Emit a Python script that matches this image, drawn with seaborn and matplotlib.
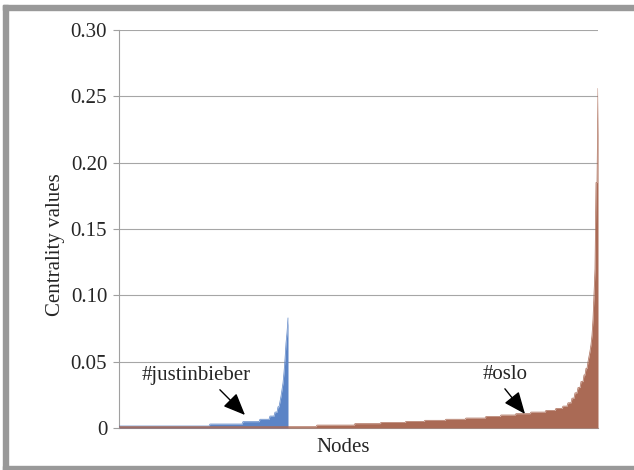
import numpy as np
import pandas as pd
import matplotlib
matplotlib.use("Agg")
import matplotlib.pyplot as plt
import seaborn as sns
from matplotlib.patches import Rectangle

# Sorted node centrality values per hashtag graph, stored as runs:
# each value is shared by the given number of nodes.
bieber_values = [0.0015, 0.0030, 0.0048, 0.0066, 0.0090, 0.0120, 0.0160,
                 0.020, 0.024, 0.029, 0.034, 0.042, 0.052, 0.064, 0.072, 0.083]
bieber_counts = [91, 33, 17, 10, 5, 3, 2,
                 1, 1, 1, 1, 1, 1, 1, 1, 1]

oslo_values = [0.0010, 0.0022, 0.0033, 0.0042, 0.0050, 0.0058, 0.0066, 0.0075,
               0.0087, 0.0098, 0.0108, 0.0120, 0.0133, 0.0148, 0.0165, 0.0190,
               0.0225, 0.0265, 0.0305, 0.0350, 0.0400, 0.0450,
               0.050, 0.054, 0.058, 0.063, 0.070, 0.082, 0.100, 0.120,
               0.185, 0.185, 0.256]
oslo_counts = [198, 38, 26, 25, 19, 21, 20, 20,
               15, 15, 15, 15, 10, 7, 5, 4,
               3, 3, 3, 3, 2, 2,
               1, 1, 1, 1, 1, 1, 1, 1,
               1, 1, 1]

series_names = ["#justinbieber", "#oslo"]
y_ticks = [0, 0.05, 0.10, 0.15, 0.20, 0.25, 0.30]
y_tick_labels = ["0", "0.05", "0.10", "0.15", "0.20", "0.25", "0.30"]


def expand(values, counts, name):
    vals = np.repeat(values, counts)
    return pd.DataFrame({"node": np.arange(len(vals)), "centrality": vals, "tag": name})


df = pd.concat([expand(bieber_values, bieber_counts, series_names[0]),
                expand(oslo_values, oslo_counts, series_names[1])], ignore_index=True)

sns.set_style("white")
plt.rcParams["font.family"] = ["Liberation Serif", "DejaVu Serif"]

W, H = 634, 470
FS = 15
fig = plt.figure(figsize=(W / 100, H / 100), dpi=100)
ax = fig.add_axes([119 / W, 1 - 428 / H, (598 - 119) / W, (428 - 30) / H])

colors = {"#justinbieber": "#5B84C6", "#oslo": "#AA6A55"}
n_nodes = int(df["node"].max())

for name in series_names:
    sub = df[df["tag"] == name]
    ax.fill_between(sub["node"], 0, sub["centrality"], color=colors[name], lw=0, zorder=2)
    sns.lineplot(data=sub, x="node", y="centrality", color=colors[name], lw=0.5,
                 ax=ax, legend=False, zorder=2)

ax.set_xlim(0, n_nodes)
ax.set_ylim(0, 0.30)
ax.set_yticks(y_ticks)
ax.set_yticklabels(y_tick_labels)
ax.set_xticks([])
ax.set_xlabel("")
ax.set_ylabel("")

ax.yaxis.grid(True, color="#A6A6A6", lw=0.8)
ax.set_axisbelow(True)
for side in ("top", "right"):
    ax.spines[side].set_visible(False)
for side in ("left", "bottom"):
    ax.spines[side].set_color("#A0A0A0")
    ax.spines[side].set_linewidth(0.8)
    ax.spines[side].set_zorder(1)
ax.tick_params(axis="y", direction="out", length=4, width=0.8, color="#A0A0A0",
               labelsize=FS, pad=4.5, left=True)

ax.text(-0.133, 0.46, "Centrality values", rotation=90, ha="center", va="center",
        fontsize=FS, transform=ax.transAxes)
ax.text(0.468, -0.05, "Nodes", ha="center", va="center", fontsize=FS,
        transform=ax.transAxes)

arrow = dict(arrowstyle="-|>,head_length=0.9,head_width=0.38", color="black",
             lw=1.0, shrinkA=1, shrinkB=0)
ax.annotate("#justinbieber", xy=(126, 0.0098), xytext=(77, 0.0392),
            ha="center", va="center", fontsize=FS,
            arrowprops=dict(arrow, relpos=(0.68, 0.0)))
ax.annotate("#oslo", xy=(406, 0.0106), xytext=(386, 0.0400),
            ha="center", va="center", fontsize=FS,
            arrowprops=dict(arrow, relpos=(0.42, 0.0)))

# grey frame around the figure (top, left and bottom edges)
frame = "#999999"
fig.add_artist(Rectangle((3 / W, 1 - 10 / H), 1, 5 / H, color=frame, transform=fig.transFigure))
fig.add_artist(Rectangle((3 / W, 0), 5 / W, 1 - 5 / H, color=frame, transform=fig.transFigure))
fig.add_artist(Rectangle((3 / W, 0), 1, 4 / H, color=frame, transform=fig.transFigure))

fig.savefig("out.png", dpi=100)
